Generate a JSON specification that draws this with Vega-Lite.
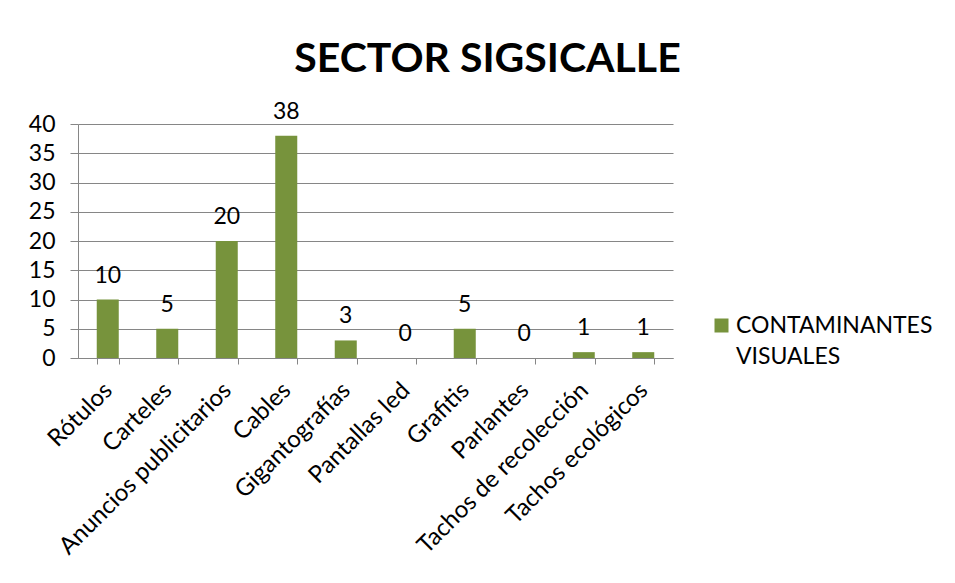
{
  "$schema": "https://vega.github.io/schema/vega-lite/v6.json",
  "width": 595,
  "height": 234,
  "autosize": {"type": "none"},
  "padding": {"left": 78, "top": 124, "right": 282, "bottom": 225},
  "background": "white",
  "title": {
    "text": "SECTOR SIGSICALLE",
    "font": "Lato",
    "fontSize": 41,
    "fontWeight": "bold",
    "color": "#000000",
    "anchor": "middle",
    "dx": 112,
    "offset": 20
  },
  "data": {
    "values": [
      {"categoria": "Rótulos", "valor": 10, "serie": "CONTAMINANTES VISUALES"},
      {"categoria": "Carteles", "valor": 5, "serie": "CONTAMINANTES VISUALES"},
      {"categoria": "Anuncios publicitarios", "valor": 20, "serie": "CONTAMINANTES VISUALES"},
      {"categoria": "Cables", "valor": 38, "serie": "CONTAMINANTES VISUALES"},
      {"categoria": "Gigantografías", "valor": 3, "serie": "CONTAMINANTES VISUALES"},
      {"categoria": "Pantallas led", "valor": 0, "serie": "CONTAMINANTES VISUALES"},
      {"categoria": "Grafitis", "valor": 5, "serie": "CONTAMINANTES VISUALES"},
      {"categoria": "Parlantes", "valor": 0, "serie": "CONTAMINANTES VISUALES"},
      {"categoria": "Tachos de recolección", "valor": 1, "serie": "CONTAMINANTES VISUALES"},
      {"categoria": "Tachos ecológicos", "valor": 1, "serie": "CONTAMINANTES VISUALES"}
    ]
  },
  "encoding": {
    "x": {
      "field": "categoria",
      "type": "nominal",
      "sort": null,
      "scale": {"paddingInner": 0.63, "paddingOuter": 0.315},
      "axis": {
        "title": null,
        "labelAngle": -45,
        "tickBand": "extent",
        "tickSize": 6,
        "labelPadding": 14,
        "labelOffset": -8,
        "labelFontSize": 24,
        "labelLimit": 400,
        "grid": false
      }
    },
    "y": {
      "field": "valor",
      "type": "quantitative",
      "scale": {"domain": [0, 40], "nice": false},
      "axis": {
        "title": null,
        "values": [0, 5, 10, 15, 20, 25, 30, 35, 40],
        "tickSize": 8,
        "labelPadding": 15,
        "grid": true
      }
    }
  },
  "layer": [
    {
      "mark": {"type": "bar", "color": "#77933C"},
      "encoding": {
        "color": {
          "field": "serie",
          "type": "nominal",
          "scale": {"range": ["#77933C"]},
          "legend": {
            "title": null,
            "orient": "none",
            "legendX": 632,
            "legendY": 190,
            "symbolType": "square",
            "symbolSize": 196,
            "symbolStrokeWidth": 0,
            "labelFont": "Lato",
            "labelFontSize": 23,
            "labelColor": "#000000",
            "labelLimit": 300,
            "labelOffset": 3,
            "labelExpr": "split(datum.label, ' ')",
            "encode": {"labels": {"update": {"lineHeight": {"value": 31}}}}
          }
        }
      }
    },
    {
      "mark": {"type": "text", "font": "Lato", "fontSize": 23, "color": "#000000", "baseline": "alphabetic", "dy": -17},
      "encoding": {"text": {"field": "valor", "type": "quantitative"}}
    }
  ],
  "config": {
    "view": {"stroke": null},
    "axis": {
      "domainColor": "#868686",
      "tickColor": "#868686",
      "gridColor": "#868686",
      "labelFont": "Lato",
      "labelFontSize": 23,
      "labelColor": "#000000"
    }
  }
}
